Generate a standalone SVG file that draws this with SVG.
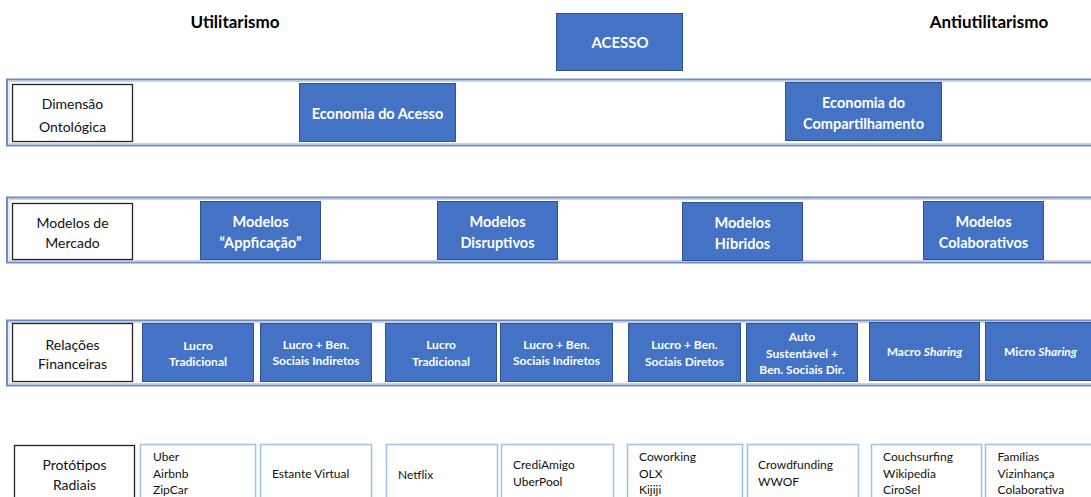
<svg xmlns="http://www.w3.org/2000/svg" width="1091" height="497" viewBox="0 0 1091 497">
<style>
text{font-family:Lato,"Open Sans","Liberation Sans",sans-serif}
.band{fill:none;stroke:#6F8CC4;stroke-width:2}
.band2{fill:none;stroke:#C9D3E6;stroke-width:1}
.lab{fill:#fff;stroke:#222;stroke-width:1.3}
.lt{font-size:14px;fill:#111;text-anchor:middle}
.blue{fill:#4472C4;stroke:#2F528F;stroke-width:1}
.bt{font-size:14.5px;font-weight:bold;fill:#fff;text-anchor:middle}
.bs{font-size:12px;font-weight:bold;fill:#fff;text-anchor:middle}
.proto{fill:#fff;stroke:#9DC3E6;stroke-width:1.5}
.pt{font-size:12px;fill:#111}
.title{font-size:17px;font-weight:bold;fill:#000;text-anchor:middle}
</style>
<rect width="1091" height="497" fill="#fff"/>
<g id="titles">
<text class="title" x="235" y="28">Utilitarismo</text>
<text class="title" x="989" y="28">Antiutilitarismo</text>
</g>
<g id="acesso"><rect class="blue" x="556.5" y="13.5" width="126" height="57"/><text class="bt" x="620" y="48" style="font-size:15px">ACESSO</text></g>
<g id="bands">
<rect class="band" x="7" y="79.5" width="1100" height="66"/>
<rect class="band2" x="9" y="81.5" width="1100" height="62"/>
<rect class="band" x="7" y="197.5" width="1100" height="65"/>
<rect class="band2" x="9" y="199.5" width="1100" height="61"/>
<rect class="band" x="7" y="320.5" width="1100" height="65"/>
<rect class="band2" x="9" y="322.5" width="1100" height="61"/>
</g>
<g id="connectors"></g>
<g id="lab-ontologica"><rect class="lab" x="12.5" y="84.5" width="120" height="57"/><text class="lt" x="72.5" y="109">Dimensão</text><text class="lt" x="72.5" y="132">Ontológica</text></g>
<g id="lab-mercado"><rect class="lab" x="12.5" y="203.5" width="120" height="56"/><text class="lt" x="72.5" y="228">Modelos de</text><text class="lt" x="72.5" y="248">Mercado</text></g>
<g id="lab-financeiras"><rect class="lab" x="12.5" y="323.5" width="120" height="58"/><text class="lt" x="72.5" y="350">Relações</text><text class="lt" x="72.5" y="369">Financeiras</text></g>
<g id="lab-prototipos"><rect class="lab" x="14.5" y="445.5" width="120" height="60"/><text class="lt" x="74.5" y="470">Protótipos</text><text class="lt" x="74.5" y="490">Radiais</text></g>

<g id="eco-acesso"><rect class="blue" x="299.5" y="83.5" width="156" height="58"/><text class="bt" x="377.5" y="119">Economia do Acesso</text></g>
<g id="eco-compart"><rect class="blue" x="785.5" y="82.5" width="156" height="58"/><text class="bt" x="863.5" y="108">Economia do</text><text class="bt" x="863.5" y="129">Compartilhamento</text></g>

<g id="m-app"><rect class="blue" x="200.5" y="201.5" width="120" height="58"/><text class="bt" x="260.5" y="227">Modelos</text><text class="bt" x="260.5" y="248">“Appficação”</text></g>
<g id="m-disr"><rect class="blue" x="437.5" y="201.5" width="120" height="58"/><text class="bt" x="497.5" y="227">Modelos</text><text class="bt" x="497.5" y="248">Disruptivos</text></g>
<g id="m-hib"><rect class="blue" x="682.5" y="202.5" width="120" height="58"/><text class="bt" x="742.5" y="228">Modelos</text><text class="bt" x="742.5" y="249">Híbridos</text></g>
<g id="m-colab"><rect class="blue" x="923.5" y="201.5" width="120" height="58"/><text class="bt" x="983.5" y="227">Modelos</text><text class="bt" x="983.5" y="248">Colaborativos</text></g>

<g id="f1"><rect class="blue" x="142.5" y="323.5" width="111" height="58"/><text class="bs" x="198" y="350">Lucro</text><text class="bs" x="198" y="366">Tradicional</text></g>
<g id="f2"><rect class="blue" x="260.5" y="323.5" width="111" height="58"/><text class="bs" x="316" y="349">Lucro + Ben.</text><text class="bs" x="316" y="365">Sociais Indiretos</text></g>
<g id="f3"><rect class="blue" x="385.5" y="323.5" width="111" height="58"/><text class="bs" x="441" y="349">Lucro</text><text class="bs" x="441" y="366">Tradicional</text></g>
<g id="f4"><rect class="blue" x="500.5" y="323.5" width="112" height="58"/><text class="bs" x="556.5" y="349">Lucro + Ben.</text><text class="bs" x="556.5" y="365">Sociais Indiretos</text></g>
<g id="f5"><rect class="blue" x="628.5" y="323.5" width="112" height="58"/><text class="bs" x="684.5" y="349">Lucro + Ben.</text><text class="bs" x="684.5" y="366">Sociais Diretos</text></g>
<g id="f6"><rect class="blue" x="746.5" y="323.5" width="111" height="58"/><text class="bs" x="802" y="341">Auto</text><text class="bs" x="802" y="358">Sustentável +</text><text class="bs" x="802" y="374">Ben. Sociais Dir.</text></g>
<g id="f7"><rect class="blue" x="869.5" y="322.5" width="110" height="58"/><text class="bs" x="924.5" y="356">Macro <tspan font-style="italic">Sharing</tspan></text></g>
<g id="f8"><rect class="blue" x="985.5" y="322.5" width="110" height="58"/><text class="bs" x="1040.5" y="356">Micro <tspan font-style="italic">Sharing</tspan></text></g>

<g id="p1"><rect class="proto" x="140.5" y="444.5" width="115" height="60"/><text class="pt" x="153" y="461">Uber</text><text class="pt" x="153" y="478">Airbnb</text><text class="pt" x="153" y="494">ZipCar</text></g>
<g id="p2"><rect class="proto" x="260.5" y="444.5" width="111" height="60"/><text class="pt" x="272" y="478">Estante Virtual</text></g>
<g id="p3"><rect class="proto" x="386.5" y="444.5" width="111" height="60"/><text class="pt" x="398" y="479">Netflix</text></g>
<g id="p4"><rect class="proto" x="501.5" y="444.5" width="112" height="60"/><text class="pt" x="513" y="469">CrediAmigo</text><text class="pt" x="513" y="486">UberPool</text></g>
<g id="p5"><rect class="proto" x="627.5" y="444.5" width="115" height="60"/><text class="pt" x="639" y="461">Coworking</text><text class="pt" x="639" y="478">OLX</text><text class="pt" x="639" y="494">Kijiji</text></g>
<g id="p6"><rect class="proto" x="747.5" y="444.5" width="111" height="60"/><text class="pt" x="758" y="469">Crowdfunding</text><text class="pt" x="758" y="486">WWOF</text></g>
<g id="p7"><rect class="proto" x="871.5" y="444.5" width="110" height="60"/><text class="pt" x="883" y="461">Couchsurfing</text><text class="pt" x="883" y="478">Wikipedia</text><text class="pt" x="883" y="494">CiroSel</text></g>
<g id="p8"><rect class="proto" x="985.5" y="444.5" width="110" height="60"/><text class="pt" x="997.5" y="461">Famílias</text><text class="pt" x="997.5" y="478">Vizinhança</text><text class="pt" x="997.5" y="494">Colaborativa</text></g>
</svg>
